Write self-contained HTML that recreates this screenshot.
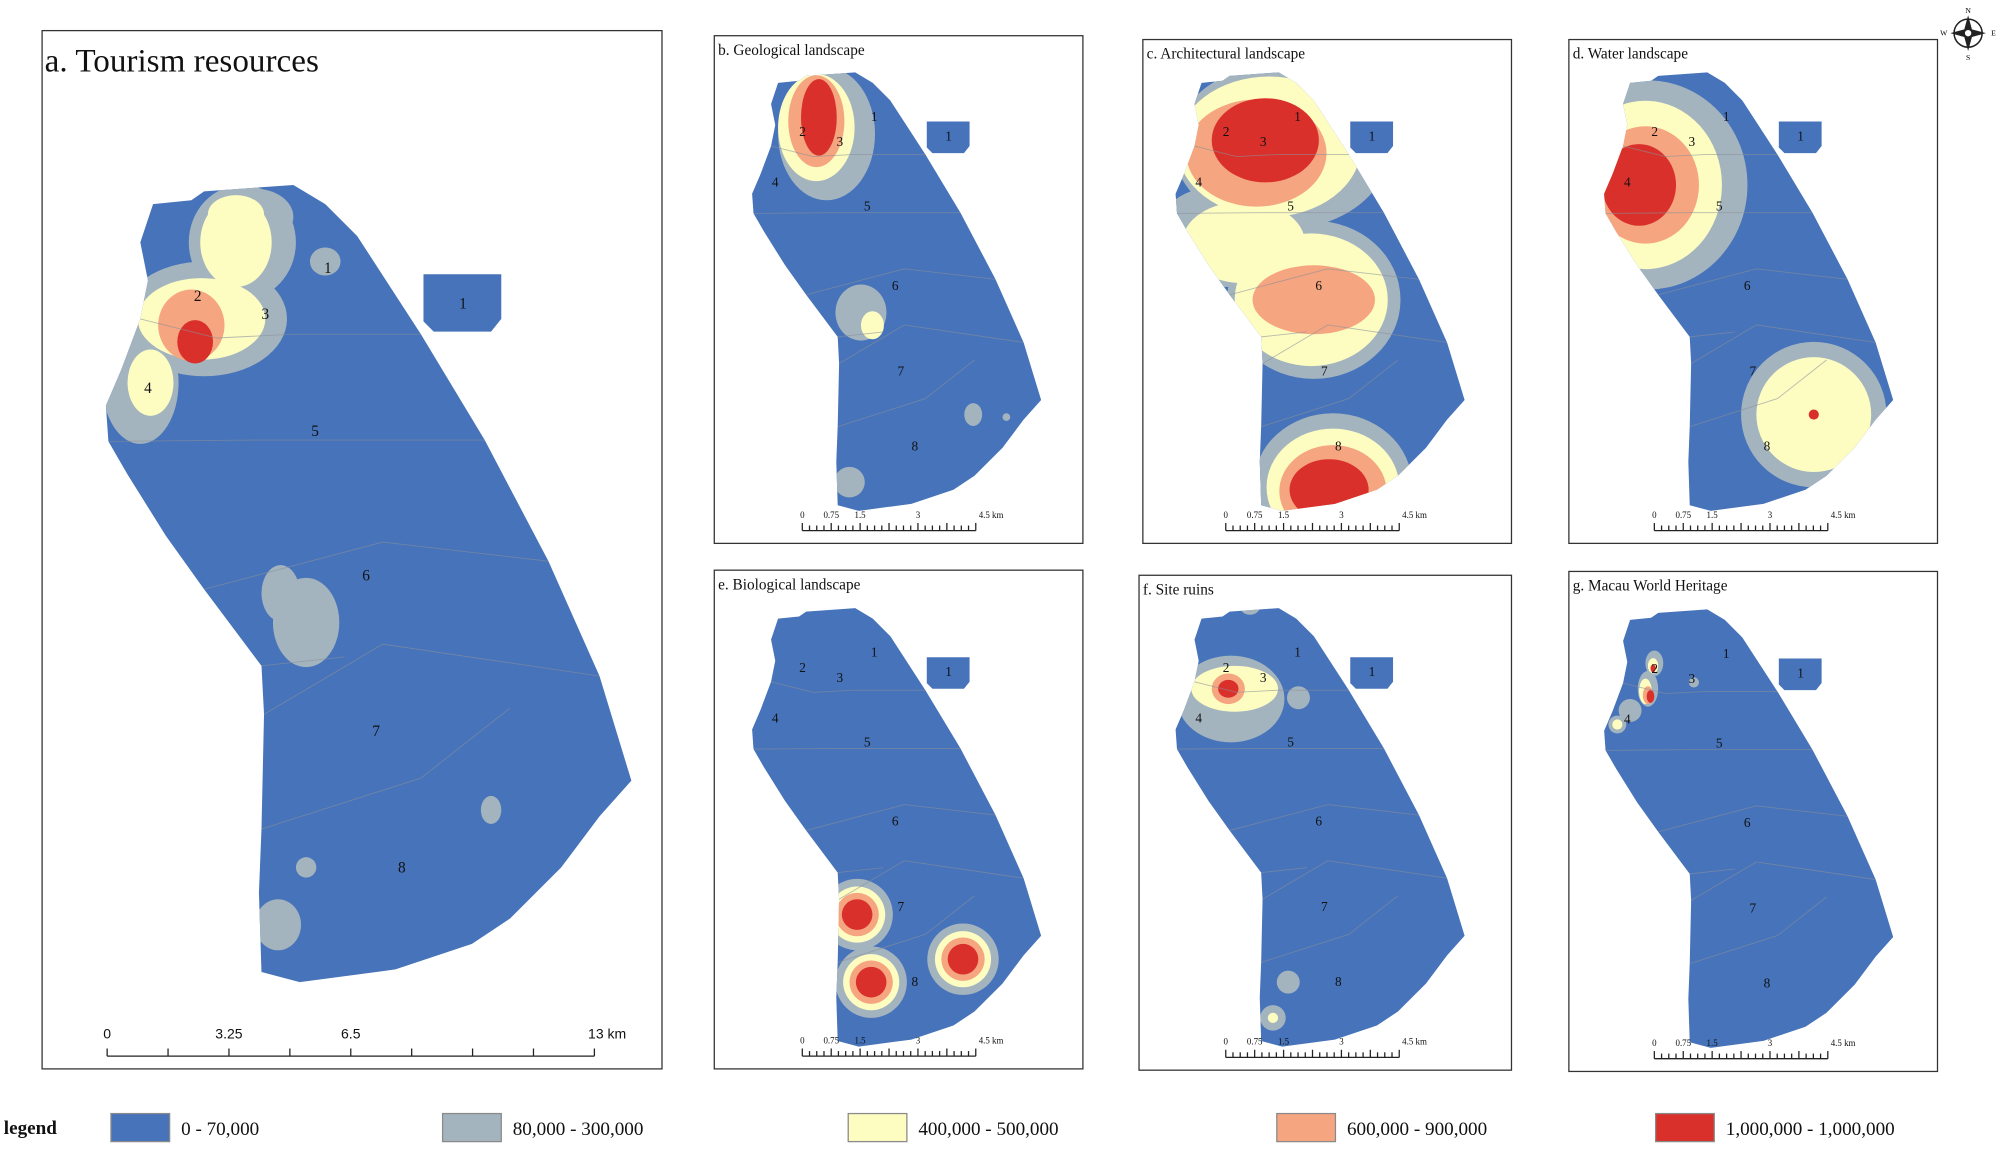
<!DOCTYPE html>
<html><head><meta charset="utf-8"><style>
html,body{margin:0;padding:0;background:#fff;}
svg{display:block;font-family:"Liberation Serif",serif;}
</style></head><body>
<svg id="fig" width="2000" height="1155" viewBox="0 0 1568 905.5" preserveAspectRatio="none" xmlns="http://www.w3.org/2000/svg">
<defs>
<path id="shape" d="M120,160 L150,157 L160,150 L230,145 L255,160 L280,185 L330,262 L380,345 L430,440 L470,530 L495,612 L470,640 L440,680 L400,720 L370,740 L310,760 L235,770 L205,762 L203,700 L205,650 L207,560 L205,522 L160,462 L130,420 L100,372 L85,346 L83,318 L95,290 L110,250 L116,220 L110,190 Z"/>
<path id="isle" d="M332,215 L393,215 L393,250 L385,260 L340,260 L332,252 Z"/>
</defs>
<g id="panels"></g>
<g id="legend"></g>
<g transform="translate(1543,26)">
<circle r="11" fill="none" stroke="#222" stroke-width="1.2"/>
<polygon points="0,-14 3,-3 14,0 3,3 0,14 -3,3 -14,0 -3,-3" fill="#222"/>
<circle r="3" fill="#fff" stroke="#222"/>
<text x="0" y="-16" font-size="6" text-anchor="middle">N</text>
<text x="18" y="2" font-size="6">E</text>
<text x="-22" y="2" font-size="6">W</text>
<text x="0" y="21" font-size="6" text-anchor="middle">S</text>
</g>
</svg>
<script>
const NS='http://www.w3.org/2000/svg';
const colors=['#4673ba','#a4b4bf','#fdfdc2','#f5a57f','#d9302b'];
const legendLabels=['0 - 70,000','80,000 - 300,000','400,000 - 500,000','600,000 - 900,000','1,000,000 - 1,000,000'];
const panelNames=['a','b','c','d','e','f','g'];
const panelTitles=['a. Tourism resources','b. Geological landscape','c. Architectural landscape','d. Water landscape','e. Biological landscape','f. Site ruins','g. Macau World Heritage'];
const panelFrames=[[33,24,486,814],[560,28,289,398],[896,31,289,395],[1230,31,289,395],[560,447,289,391],[893,451,292,388],[1230,448,289,392]];
const panelTransforms=[[0,0,1],[544,-23,0.55],[876,-23,0.55],[1212,-23,0.55],[544,397,0.55],[876,397,0.55],[1212,398,0.55]];
// blobs: [panel, level, cx, cy, rx, ry]
const blobs=[
['a',1,190,190,42,45],['a',1,160,250,65,45],['a',1,110,300,30,48],['a',1,200,170,30,22],
['a',2,185,190,28,35],['a',2,158,250,50,32],['a',2,118,300,18,26],['a',2,185,168,22,15],
['a',3,150,255,26,28],['a',4,153,268,14,17],
['a',1,240,488,26,35],['a',1,220,465,15,22],['a',1,255,205,12,11],['a',1,385,635,8,11],['a',1,240,680,8,8],['a',1,218,725,18,20],
['b',1,648,105,38,52],['b',2,640,100,30,42],['b',3,640,95,22,36],['b',4,642,92,14,30],['b',1,675,245,20,22],['b',2,684,255,9,11],['b',1,763,325,7,9],['b',1,789,327,3,3],['b',1,666,378,12,12],
['c',1,1005,115,85,65],['c',1,1030,235,68,62],['c',1,960,185,55,40],['c',1,1045,380,62,56],
['c',2,995,115,72,55],['c',2,1028,235,60,52],['c',2,975,190,48,32],['c',2,1045,382,52,46],
['c',3,985,120,55,42],['c',3,1030,235,48,27],['c',3,1045,385,42,36],['c',4,992,110,42,33],['c',4,1042,384,31,24],
['d',1,1292,145,78,82],['d',2,1290,145,60,66],['d',3,1290,145,42,46],['d',4,1285,145,29,32],['d',1,1422,325,57,57],['d',2,1422,325,45,45],['d',4,1422,325,4,4],
['e',1,672,717,28,28],['e',2,672,717,22,22],['e',3,672,717,17,17],['e',4,672,717,12,12],
['e',1,683,770,28,28],['e',2,683,770,22,22],['e',3,683,770,17,17],['e',4,683,770,12,12],
['e',1,755,752,28,28],['e',2,755,752,22,22],['e',3,755,752,17,17],['e',4,755,752,12,12],
['f',1,965,548,42,34],['f',2,968,540,34,18],['f',3,963,540,13,12],['f',4,963,540,8,7],['f',1,1018,547,9,9],['f',1,980,475,8,7],['f',1,1010,770,9,9],['f',1,998,798,10,10],['f',2,998,798,4,4],
['g',1,1297,520,7,10],['g',1,1292,540,8,14],['g',1,1278,557,9,9],['g',1,1268,568,7,7],['g',1,1328,535,4,4],
['g',2,1296,522,4,6],['g',2,1290,542,5,10],['g',3,1292,545,4,7],['g',4,1294,546,3,5],['g',4,1296,524,2,3],['g',2,1268,568,4,4]
];
const regionLabels=['1','1','2','3','4','5','6','7','8'];
const regionLabelX=[257,363,155,208,116,247,287,295,315];
const regionLabelY=[214,242,236,250,308,342,455,577,684];
const scaleTicksBig=['0','3.25','6.5','13 km'];
const scaleTicksSmall=['0','0.75','1.5','3','4.5 km'];
function el(tag,attrs,parent){const e=document.createElementNS(NS,tag);for(const k in attrs)e.setAttribute(k,attrs[k]);parent.appendChild(e);return e;}
const panelsG=document.getElementById('panels');
const defs=document.querySelector('defs');
panelNames.forEach((p,i)=>{
  const [fx,fy,fw,fh]=panelFrames[i];const [tx,ty,s]=panelTransforms[i];
  const g=el('g',{},panelsG);
  
  
  const fr=el('rect',{x:fx,y:fy,width:fw,height:fh,fill:'#fff',stroke:'#333','stroke-width':1},g);
  
  
  const tr=`translate(${tx},${ty}) scale(${s})`;
  const cp=el('clipPath',{id:'clip-'+p},defs);
  el('use',{href:'#shape',transform:tr},cp);
  const base=el('use',{href:'#shape',transform:tr,fill:colors[0]},g);
  
  
  const isle=el('use',{href:'#isle',transform:tr,fill:colors[0]},g);
  
  
  const bg=el('g',{'clip-path':`url(#clip-${p})`},g);
  for(let lv=1;lv<=4;lv++){
    blobs.filter(b=>b[0]===p&&b[1]===lv).forEach(b=>{
      const e=el('ellipse',{cx:b[2],cy:b[3],rx:b[4],ry:b[5],fill:colors[lv]},bg);
      
      
    });
  }
  const lg=el('g',{transform:tr,stroke:'#8a8f99','stroke-width':1.2/s*0.6,fill:'none',opacity:0.6},g);
  el('path',{d:'M110,250 L170,265 L230,262 L330,262 M85,346 L200,345 L380,345 M160,462 L300,425 L430,440 M207,560 L300,505 L470,530 M205,650 L330,610 L400,555 M205,522 L270,515'},lg);
  const tg=el('g',{transform:tr,'font-size':p==='a'?12:19,fill:'#111'},g);
  regionLabels.forEach((t,k)=>{const tt=el('text',{x:regionLabelX[k],y:regionLabelY[k],'text-anchor':'middle'},tg);tt.textContent=t;
    
    });
  const title=el('text',{x:fx+(p==='a'?2:3),y:fy+(p==='a'?32:15),'font-size':p==='a'?26:12,fill:'#111'},g);
  title.textContent=panelTitles[i];
  
  
  const sb=el('g',{stroke:'#222','stroke-width':1,fill:'none'},g);
  
  
  if(p==='a'){
    const x0=84,x1=466,y=828;
    el('line',{x1:x0,y1:y,x2:x1,y2:y},sb);
    for(let k=0;k<=8;k++){const x=x0+(x1-x0)*k/8;el('line',{x1:x,y1:y,x2:x,y2:y-6},sb);}
    const pos=[0,0.25,0.5,1];
    scaleTicksBig.forEach((t,k)=>{const tt=el('text',{x:x0+(x1-x0)*pos[k]+(k===3?10:0),y:y-14,'font-size':11,'text-anchor':'middle',fill:'#111',stroke:'none','font-family':'Liberation Sans, sans-serif'},sb);tt.textContent=t;});
  } else {
    const x0=tx-544+629,x1=x0+136,y=fy+fh-10;
    el('line',{x1:x0,y1:y,x2:x1,y2:y},sb);
    for(let k=0;k<=24;k++){const x=x0+(x1-x0)*k/24;el('line',{x1:x,y1:y,x2:x,y2:y-(k%4===0?6:4)},sb);}
    const pos=[0,0.167,0.333,0.667,1];
    scaleTicksSmall.forEach((t,k)=>{const tt=el('text',{x:x0+(x1-x0)*pos[k]+(k===4?12:0),y:y-10,'font-size':7,'text-anchor':'middle',fill:'#111',stroke:'none'},sb);tt.textContent=t;});
  }
});
const lgd=document.getElementById('legend');
const lt=el('text',{x:3,y:889,'font-size':15,'font-weight':'bold',fill:'#111'},lgd);lt.textContent='legend';


const legX=[87,347,665,1001,1298];
legendLabels.forEach((t,k)=>{
  const r=el('rect',{x:legX[k],y:873,width:46,height:22,fill:colors[k],stroke:'#8a8a8a','stroke-width':1},lgd);
  
  
  const tx=el('text',{x:legX[k]+55,y:890,'font-size':15,fill:'#111'},lgd);tx.textContent=t;
  
  
});
</script>
</body></html>
